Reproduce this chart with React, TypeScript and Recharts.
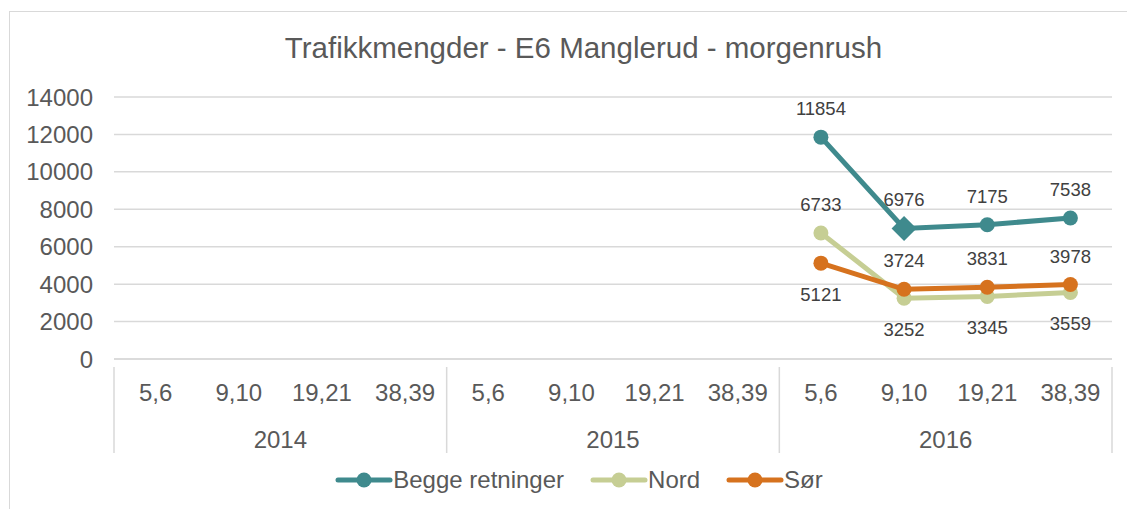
import React from "react";
import {
  LineChart,
  Line,
  XAxis,
  YAxis,
  CartesianGrid,
  Legend,
  LabelList,
} from "recharts";

const YEARS = ["2014", "2015", "2016"];
const WEEKS = ["5,6", "9,10", "19,21", "38,39"];
const BEGGE = [null, null, null, null, null, null, null, null, 11854, 6976, 7175, 7538];
const NORD = [null, null, null, null, null, null, null, null, 6733, 3252, 3345, 3559];
const SOR = [null, null, null, null, null, null, null, null, 5121, 3724, 3831, 3978];
const Y_TICKS = [0, 2000, 4000, 6000, 8000, 10000, 12000, 14000];

const COLORS = {
  begge: "#3F8A8D",
  nord: "#C6CE94",
  sor: "#D6721E",
  text: "#595959",
  label: "#404040",
  grid: "#D9D9D9",
};

const W = 1127;
const H = 509;
const MARGIN = { top: 97, right: 15, left: 0, bottom: 15 };
const Y_WIDTH = 114;
const BAND = (W - MARGIN.right - Y_WIDTH) / (YEARS.length * WEEKS.length);
const FONT = "'Liberation Sans', Arial, sans-serif";

const data = YEARS.flatMap((year, yi) =>
  WEEKS.map((week, wi) => {
    const i = yi * WEEKS.length + wi;
    return { key: `${year}-${week}`, year, week, begge: BEGGE[i], nord: NORD[i], sor: SOR[i] };
  })
);

// week label + year label under the group, plus separators between years
const CategoryTick = (props: any) => {
  const { x, y, index } = props;
  const item = data[index];
  const wi = index % WEEKS.length;
  return (
    <g>
      <text x={x} y={y + 34} textAnchor="middle" fill={COLORS.text} fontSize={24} fontFamily={FONT}>
        {item.week}
      </text>
      {wi === 1 && (
        <text x={x + BAND / 2} y={y + 81} textAnchor="middle" fill={COLORS.text} fontSize={24} fontFamily={FONT}>
          {item.year}
        </text>
      )}
      {wi === 0 && <line x1={x - BAND / 2} x2={x - BAND / 2} y1={y} y2={y + 86} stroke={COLORS.grid} strokeWidth={1.5} />}
      {index === data.length - 1 && (
        <line x1={x + BAND / 2} x2={x + BAND / 2} y1={y} y2={y + 86} stroke={COLORS.grid} strokeWidth={1.5} />
      )}
    </g>
  );
};

const BeggeDot = (props: any) => {
  const { cx, cy, index, value } = props;
  if (value == null || cx == null || cy == null) return null;
  if (index === 9) {
    const r = 12.5;
    return (
      <path
        key={`d-${index}`}
        d={`M${cx},${cy - r} L${cx + r},${cy} L${cx},${cy + r} L${cx - r},${cy} Z`}
        fill={COLORS.begge}
      />
    );
  }
  return <circle key={`d-${index}`} cx={cx} cy={cy} r={7.5} fill={COLORS.begge} />;
};

const makeLabel = (below: (i: number) => boolean) => (props: any) => {
  const { x, y, value, index } = props;
  if (value == null) return null;
  const dy = below(index) ? 37.5 : -22;
  return (
    <text x={x} y={y + dy} textAnchor="middle" fill={COLORS.label} fontSize={18.5} fontFamily={FONT}>
      {value}
    </text>
  );
};

const LEGEND_ITEMS = [
  { name: "Begge retninger", color: COLORS.begge },
  { name: "Nord", color: COLORS.nord },
  { name: "Sør", color: COLORS.sor },
];

const renderLegend = () => (
  <div
    style={{
      display: "flex",
      justifyContent: "center",
      alignItems: "center",
      gap: 26,
      paddingTop: 21,
      paddingLeft: 46,
      height: 28,
      fontFamily: FONT,
    }}
  >
    {LEGEND_ITEMS.map((it) => (
      <div key={it.name} style={{ display: "flex", alignItems: "center" }}>
        <svg width={58} height={20}>
          <line x1={3} x2={55} y1={10} y2={10} stroke={it.color} strokeWidth={5} strokeLinecap="round" />
          <circle cx={29} cy={10} r={7.5} fill={it.color} />
        </svg>
        <span style={{ fontSize: 24, lineHeight: "28px", color: COLORS.text }}>{it.name}</span>
      </div>
    ))}
  </div>
);

const App: React.FC = () => {
  return (
    <div style={{ position: "absolute", left: 0, top: 0, width: W, height: H, background: "#fff" }}>
      <div
        style={{
          position: "absolute",
          left: 9,
          top: 11,
          right: 0,
          bottom: 0,
          borderLeft: `1.5px solid ${COLORS.grid}`,
          borderTop: `1.5px solid ${COLORS.grid}`,
        }}
      />
      <div
        style={{
          position: "absolute",
          top: 31,
          left: 20,
          width: W,
          textAlign: "center",
          fontFamily: FONT,
          fontSize: 29.5,
          lineHeight: "34px",
          color: COLORS.text,
        }}
      >
        Trafikkmengder - E6 Manglerud - morgenrush
      </div>
      <LineChart width={W} height={H} data={data} margin={MARGIN}>
        <CartesianGrid vertical={false} stroke={COLORS.grid} strokeWidth={1.5} />
        <XAxis
          dataKey="key"
          scale="band"
          interval={0}
          height={86}
          axisLine={{ stroke: COLORS.grid, strokeWidth: 1.5 }}
          tickLine={false}
          tick={<CategoryTick />}
        />
        <YAxis
          width={Y_WIDTH}
          domain={[0, 14000]}
          ticks={Y_TICKS}
          axisLine={false}
          tickLine={false}
          tickMargin={15}
          tick={{ fill: COLORS.text, fontSize: 24, fontFamily: FONT }}
        />
        <Legend verticalAlign="bottom" content={renderLegend} />
        <Line
          dataKey="begge"
          name="Begge retninger"
          stroke={COLORS.begge}
          strokeWidth={5}
          dot={<BeggeDot />}
          activeDot={false}
          isAnimationActive={false}
        >
          <LabelList dataKey="begge" content={makeLabel(() => false)} />
        </Line>
        <Line
          dataKey="nord"
          name="Nord"
          stroke={COLORS.nord}
          strokeWidth={5}
          dot={{ r: 7.5, fill: COLORS.nord, stroke: "none" }}
          activeDot={false}
          isAnimationActive={false}
        >
          <LabelList dataKey="nord" content={makeLabel((i) => i !== 8)} />
        </Line>
        <Line
          dataKey="sor"
          name="Sør"
          stroke={COLORS.sor}
          strokeWidth={5}
          dot={{ r: 7.5, fill: COLORS.sor, stroke: "none" }}
          activeDot={false}
          isAnimationActive={false}
        >
          <LabelList dataKey="sor" content={makeLabel((i) => i === 8)} />
        </Line>
      </LineChart>
    </div>
  );
};

export default App;
